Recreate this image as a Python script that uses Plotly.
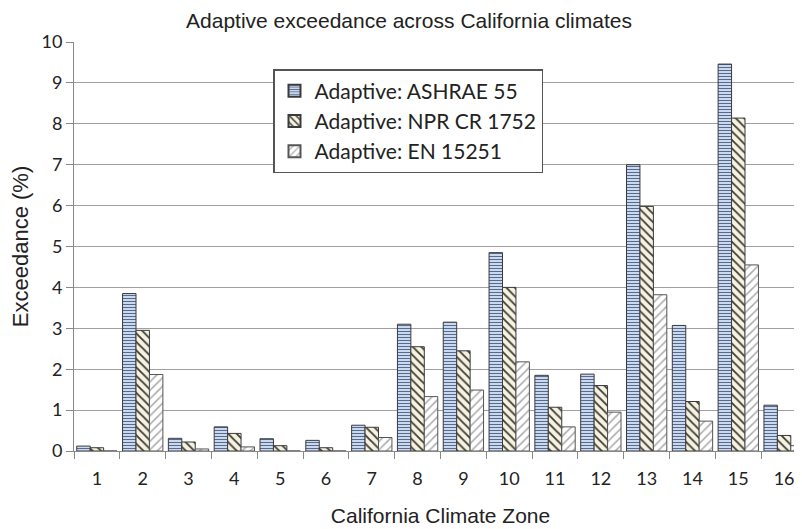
import plotly.graph_objects as go

zones = [str(i) for i in range(1, 17)]
ashrae = [0.12, 3.85, 0.31, 0.59, 0.30, 0.26, 0.63, 3.10, 3.15, 4.85, 1.85, 1.88, 7.00, 3.07, 9.46, 1.12]
npr = [0.08, 2.95, 0.22, 0.43, 0.13, 0.08, 0.58, 2.55, 2.45, 4.00, 1.07, 1.60, 5.98, 1.21, 8.14, 0.38]
en = [0.00, 1.87, 0.05, 0.10, 0.00, 0.00, 0.33, 1.33, 1.49, 2.18, 0.59, 0.95, 3.82, 0.73, 4.55, 0.13]
y_ticks = list(range(0, 11))

fig = go.Figure()
fig.add_trace(go.Bar(
    x=zones, y=ashrae, name="Adaptive: ASHRAE 55",
    marker=dict(color="#cbd9ee", line=dict(color="#3a3a3a", width=1),
                pattern=dict(shape="-", size=3, solidity=0.35,
                             fgcolor="#56698f", bgcolor="#cbd9ee", fillmode="replace")),
))
fig.add_trace(go.Bar(
    x=zones, y=npr, name="Adaptive: NPR CR 1752",
    marker=dict(color="#f6f2de", line=dict(color="#3a3a3a", width=1),
                pattern=dict(shape="\\", size=6, solidity=0.3,
                             fgcolor="#3a3a3a", bgcolor="#f6f2de", fillmode="replace")),
))
fig.add_trace(go.Bar(
    x=zones, y=en, name="Adaptive: EN 15251",
    marker=dict(color="#ffffff", line=dict(color="#555555", width=1),
                pattern=dict(shape="/", size=6, solidity=0.25,
                             fgcolor="#a8a8a8", bgcolor="#ffffff", fillmode="replace")),
))

# page body has an 8px margin: offsets compensated in margins
fig.update_layout(
    width=802, height=529,
    margin=dict(l=66, r=3, t=34, b=86),
    paper_bgcolor="white", plot_bgcolor="white",
    barmode="group", bargap=0.12, bargroupgap=0,
    title=dict(text="Adaptive exceedance across California climates",
               x=0.5, xanchor="center", y=1 - 13 / 529, yanchor="middle",
               font=dict(family="Liberation Sans, Arial", size=21, color="#222")),
    legend=dict(x=(265 - 66) / 733, y=(451 - 69) / 409, xanchor="left", yanchor="top",
                bgcolor="white", bordercolor="#555", borderwidth=1.5,
                font=dict(family="Lato, Noto Sans", size=21, color="#222"),
                itemsizing="constant", tracegroupgap=0),
    xaxis=dict(
        type="category", range=[-0.5, 15.5],
        showline=True, linecolor="#888", linewidth=1,
        ticks="outside", tickson="boundaries", ticklen=7, tickcolor="#888",
        ticklabelstandoff=11,
        tickfont=dict(family="Lato, Noto Sans", size=18, color="#222"),
        title=dict(text="California Climate Zone", standoff=20,
                   font=dict(family="Liberation Sans, Arial", size=21, color="#222")),
    ),
    yaxis=dict(
        range=[0, 10], tickvals=y_ticks,
        showline=True, linecolor="#888", linewidth=1,
        showgrid=True, gridcolor="#a0a0a0", gridwidth=1,
        ticks="outside", ticklen=7, tickcolor="#888",
        tickfont=dict(family="Lato, Noto Sans", size=18, color="#222"),
        title=dict(text="Exceedance (%)", standoff=12,
                   font=dict(family="Liberation Sans, Arial", size=22, color="#222")),
        zeroline=False,
    ),
)

fig.write_html("out.html")
